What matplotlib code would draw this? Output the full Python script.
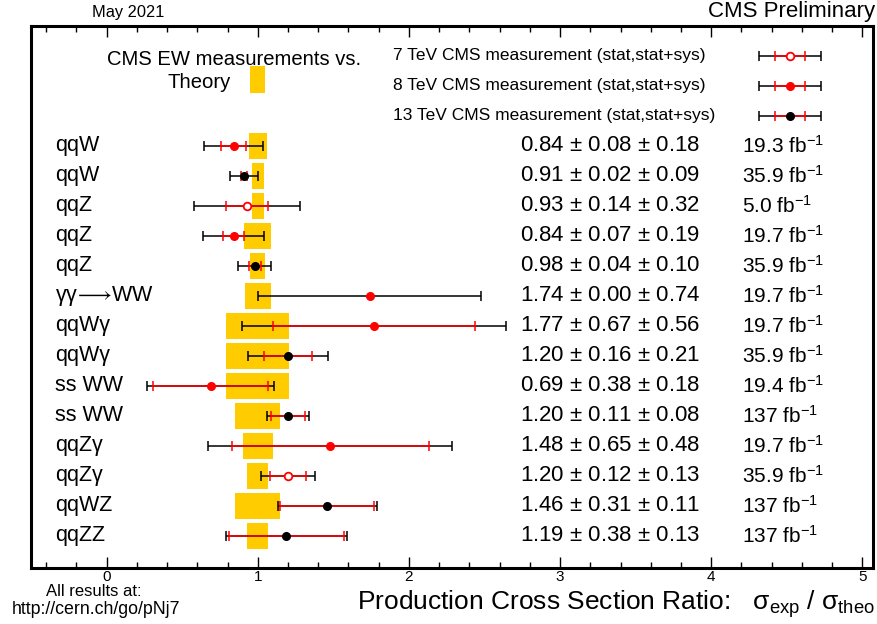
import numpy as np
import matplotlib.pyplot as plt

plt.rcParams['font.family'] = ['Liberation Sans', 'DejaVu Sans']
plt.rcParams['mathtext.fontset'] = 'custom'
plt.rcParams['mathtext.rm'] = 'Liberation Sans'
plt.rcParams['mathtext.it'] = 'Liberation Sans'

# measurements, top to bottom
labels = ['qqW', 'qqW', 'qqZ', 'qqZ', 'qqZ', 'γγ$\\!\\longrightarrow\\!$WW', 'qqWγ', 'qqWγ',
          'ss WW', 'ss WW', 'qqZγ', 'qqZγ', 'qqWZ', 'qqZZ']
ratio = [0.84, 0.91, 0.93, 0.84, 0.98, 1.74, 1.77, 1.20, 0.69, 1.20, 1.48, 1.20, 1.46, 1.19]
stat = [0.08, 0.02, 0.14, 0.07, 0.04, 0.00, 0.67, 0.16, 0.38, 0.11, 0.65, 0.12, 0.31, 0.38]
syst = [0.18, 0.09, 0.32, 0.19, 0.10, 0.74, 0.56, 0.21, 0.18, 0.08, 0.48, 0.13, 0.11, 0.13]
lumi = ['19.3', '35.9', '5.0', '19.7', '35.9', '19.7', '19.7', '35.9',
        '19.4', '137', '19.7', '35.9', '137', '137']
energy = ['8', '13', '7', '8', '13', '8', '8', '13', '8', '13', '8', '7', '13', '13']
# theory uncertainty (half width of yellow band)
theo_unc = [0.06, 0.04, 0.04, 0.09, 0.05, 0.085, 0.21, 0.21, 0.21, 0.15, 0.10, 0.07, 0.15, 0.07]

legend_text = ['7 TeV CMS measurement (stat,stat+sys)',
               '8 TeV CMS measurement (stat,stat+sys)',
               '13 TeV CMS measurement (stat,stat+sys)']
legend_energy = ['7', '8', '13']

xticks = [0, 1, 2, 3, 4, 5]


def marker_style(e):
    if e == '7':
        return dict(marker='o', mfc='white', mec='red', mew=1.3, ms=5.5)
    if e == '8':
        return dict(marker='o', mfc='red', mec='red', ms=5.5)
    return dict(marker='o', mfc='black', mec='black', ms=5.5)


def draw_point(ax, x, y, s, tot, e):
    ax.errorbar(x, y, xerr=tot, fmt='none', ecolor='black', elinewidth=1.1,
                capsize=3.5, capthick=1.1, zorder=3)
    if s > 0:
        ax.errorbar(x, y, xerr=s, fmt='none', ecolor='red', elinewidth=1.1,
                    capsize=3.5, capthick=1.1, zorder=4)
    ax.plot(x, y, linestyle='none', zorder=5, **marker_style(e))


def main():
    fig = plt.figure(figsize=(8.77, 6.24), dpi=100)
    ax = fig.add_axes([31/877, 1-568/624, 842/877, 542/624])

    n = len(labels)
    ys = np.arange(n)
    total = np.sqrt(np.array(stat)**2 + np.array(syst)**2)

    # theory bands
    for i in range(n):
        ax.fill_between([1-theo_unc[i], 1+theo_unc[i]], i-0.42, i+0.42,
                        color='#ffcc00', lw=0, zorder=1)
    # theory legend box
    ax.fill_between([0.95, 1.05], -2.65, -1.78, color='#ffcc00', lw=0, zorder=1)

    for i in range(n):
        draw_point(ax, ratio[i], ys[i], stat[i], total[i], energy[i])
        ax.text(-0.34, ys[i], labels[i], fontsize=15.5, va='center', ha='left')
        ax.text(2.735, ys[i], '%.2f $\\pm$ %.2f $\\pm$ %.2f' % (ratio[i], stat[i], syst[i]),
                fontsize=16, va='center', ha='left')
        ax.text(4.205, ys[i], lumi[i] + ' fb$^{-1}$', fontsize=15, va='center', ha='left')

    # legend
    for j in range(3):
        yl = -3 + j
        ax.text(1.894, yl, legend_text[j], fontsize=12.5, va='center', ha='left')
        draw_point(ax, 4.52, yl, 0.10, 0.205, legend_energy[j])

    ax.text(0.0, -2.87, 'CMS EW measurements vs.', fontsize=14.6, va='center', ha='left')
    ax.text(0.4, -2.1, 'Theory', fontsize=14.6, va='center', ha='left')

    ax.set_xlim(-0.5, 5.07)
    ax.set_ylim(14.07, -4.0)
    ax.set_yticks([])
    ax.set_xticks(xticks)
    ax.set_xticks(np.arange(-0.4, 5.01, 0.2), minor=True)
    ax.tick_params(axis='x', which='both', direction='in', top=True, bottom=True,
                   labelsize=11, pad=1.5, width=1)
    ax.tick_params(axis='x', which='major', length=8)
    ax.tick_params(axis='x', which='minor', length=4)
    for sp in ax.spines.values():
        sp.set_linewidth(2.2)

    fig.text(128/877, 1-12/624, 'May 2021', fontsize=11.8, ha='center', va='center')
    fig.text(875/877, 1-12/624, 'CMS Preliminary', fontsize=16, ha='right', va='center')
    fig.text(94/877, 1-591/624, 'All results at:', fontsize=12, ha='center', va='center')
    fig.text(96/877, 1-609/624, 'http://cern.ch/go/pNj7', fontsize=12.8, ha='center', va='center')
    fig.text(875/877, 1-610/624,
             'Production Cross Section Ratio:   $\\sigma_{\\rm exp}$ / $\\sigma_{\\rm theo}$',
             fontsize=19, ha='right', va='baseline')

    fig.savefig('out.png', dpi=100)
    plt.close()


if __name__ == "__main__":
    main()
